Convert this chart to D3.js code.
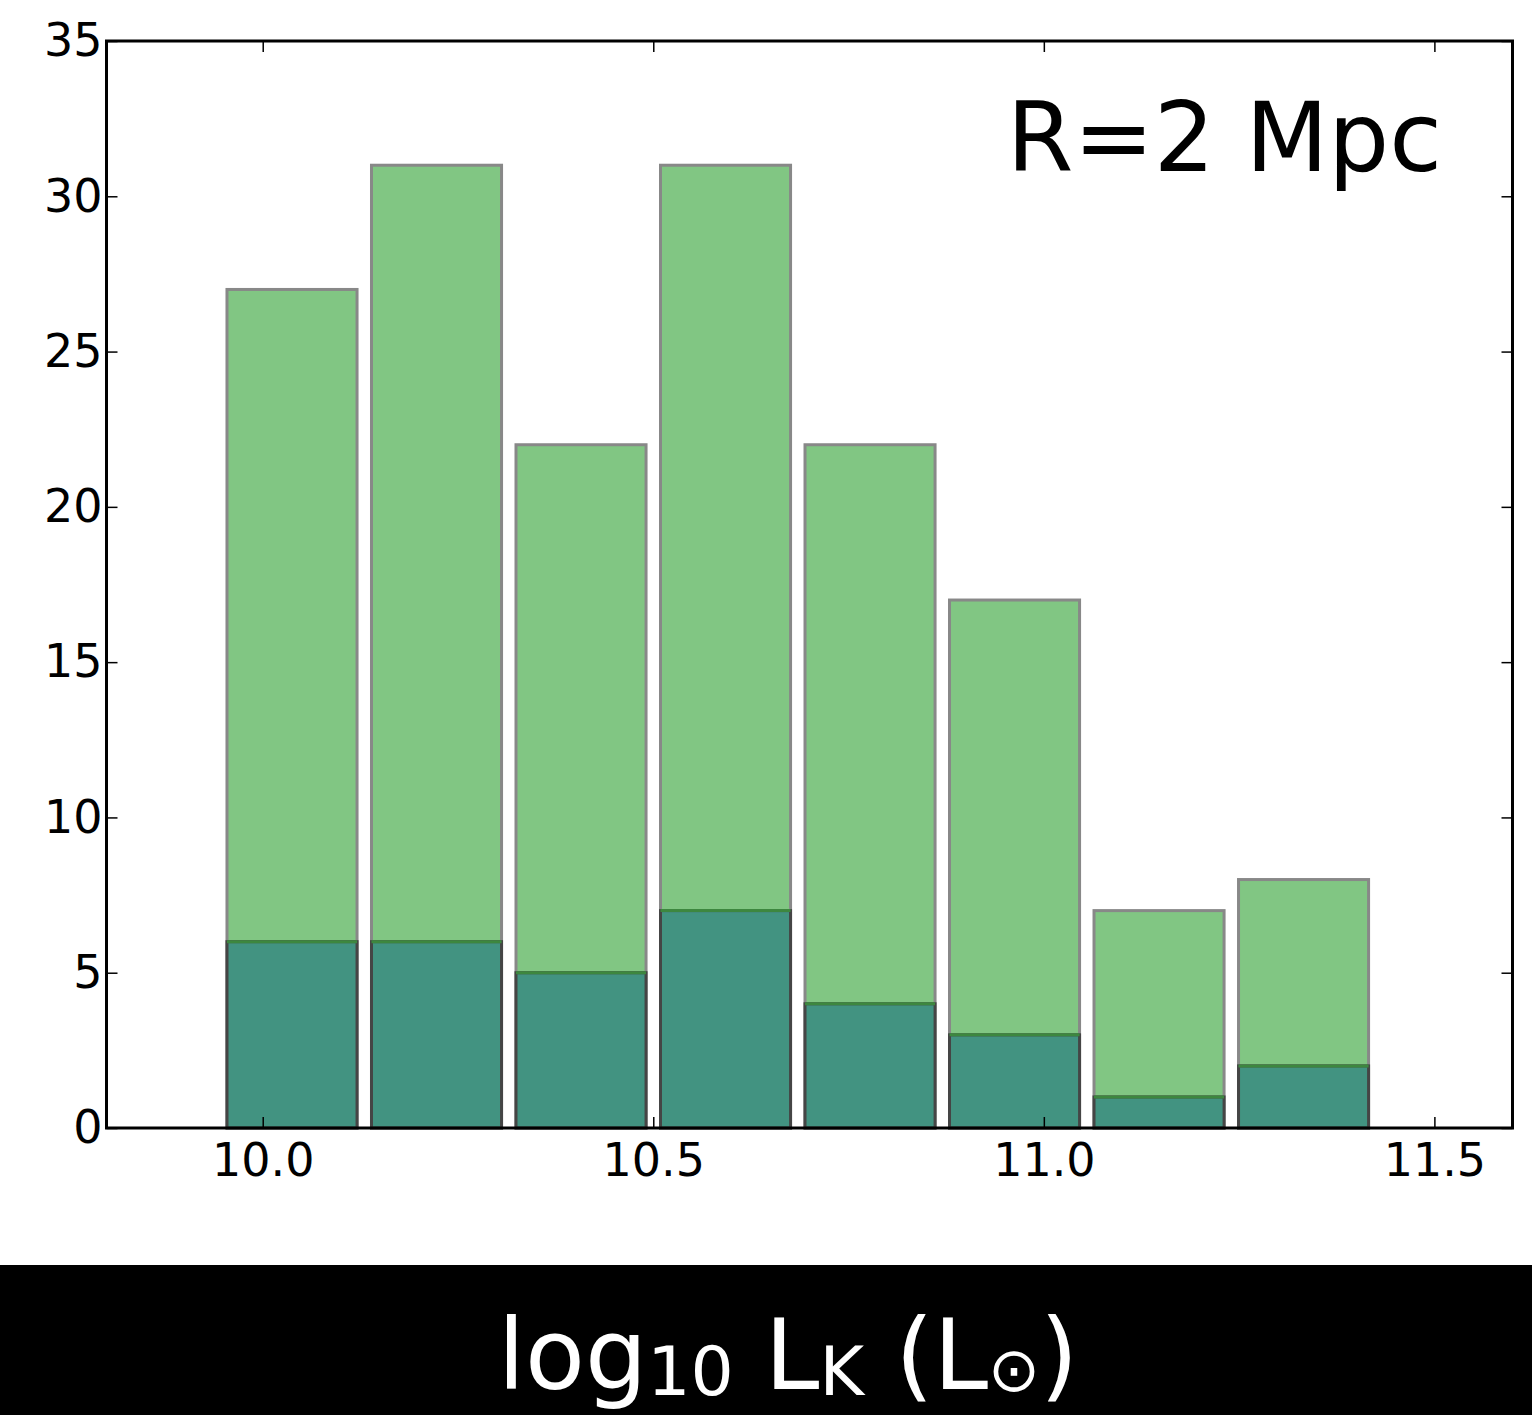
<!DOCTYPE html>
<html>
<head>
<meta charset="utf-8">
<script src="https://cdn.jsdelivr.net/npm/d3@7"></script>
<style>
  body { margin: 0; background: #fff; }
  svg { display: block; font-family: "DejaVu Sans", sans-serif; }
</style>
</head>
<body>
<svg id="chart" width="1532" height="1415"></svg>
<script>
'use strict';

// histogram bin edges (log10 L_K)
var binEdges = [9.945, 10.130, 10.315, 10.500, 10.685, 10.870, 11.055, 11.240, 11.425];
// all galaxies per bin
var allCounts = [27, 31, 22, 31, 22, 17, 7, 8];
// subset per bin
var subCounts = [6, 6, 5, 7, 4, 3, 1, 2];

var xTicks = [10.0, 10.5, 11.0, 11.5];
var yTicks = [0, 5, 10, 15, 20, 25, 30, 35];
var annotation = "R=2 Mpc";

var width = 1532, height = 1415;
var plot = {left: 106.5, right: 1512.5, top: 41, bottom: 1128};
var rwidth = 0.9;

var svg = d3.select("#chart");

var x = d3.scaleLinear().domain([9.8, 11.6]).range([plot.left, plot.right]);
var y = d3.scaleLinear().domain([0, 35]).range([plot.bottom, plot.top]);

var bins = allCounts.map(function(c, i) {
  var x0 = binEdges[i], x1 = binEdges[i + 1], pad = (x1 - x0) * (1 - rwidth) / 2;
  return {x0: x0 + pad, x1: x1 - pad, all: c, sub: subCounts[i]};
});

// big bars
svg.append("g").selectAll("rect")
    .data(bins)
  .enter().append("rect")
    .attr("x", function(d) { return x(d.x0); })
    .attr("y", function(d) { return y(d.all); })
    .attr("width", function(d) { return x(d.x1) - x(d.x0); })
    .attr("height", function(d) { return y(0) - y(d.all); })
    .attr("fill", "#81c683")
    .attr("stroke", "#888888")
    .attr("stroke-width", 3);

// subset bars
svg.append("g").selectAll("rect")
    .data(bins)
  .enter().append("rect")
    .attr("x", function(d) { return x(d.x0); })
    .attr("y", function(d) { return y(d.sub); })
    .attr("width", function(d) { return x(d.x1) - x(d.x0); })
    .attr("height", function(d) { return y(0) - y(d.sub); })
    .attr("fill", "#429381")
    .attr("stroke", "#454545")
    .attr("stroke-width", 3);

svg.append("g").selectAll("line")
    .data(bins)
  .enter().append("line")
    .attr("x1", function(d) { return x(d.x0); })
    .attr("x2", function(d) { return x(d.x1); })
    .attr("y1", function(d) { return y(d.sub); })
    .attr("y2", function(d) { return y(d.sub); })
    .attr("stroke", "#3d873f")
    .attr("stroke-width", 3);

// axes, matplotlib-style inward ticks on all sides
function styleAxis(g) {
  g.select(".domain").remove();
  g.selectAll(".tick line").attr("stroke", "#000").attr("stroke-width", 1.5);
  g.selectAll(".tick text").attr("fill", "#000").attr("font-size", 46)
    .attr("font-family", "DejaVu Sans, sans-serif");
}

svg.append("g")
    .attr("transform", "translate(0," + y(0) + ")")
    .call(d3.axisBottom(x).tickValues(xTicks).tickFormat(d3.format(".1f")).tickSizeInner(-11).tickPadding(15))
    .call(styleAxis);

svg.append("g")
    .attr("transform", "translate(0," + y(35) + ")")
    .call(d3.axisTop(x).tickValues(xTicks).tickFormat("").tickSizeInner(-11))
    .call(styleAxis);

svg.append("g")
    .attr("transform", "translate(" + x(9.8) + ",0)")
    .call(d3.axisLeft(y).tickValues(yTicks).tickFormat(d3.format("d")).tickSizeInner(-11).tickPadding(4))
    .call(styleAxis);

svg.append("g")
    .attr("transform", "translate(" + x(11.6) + ",0)")
    .call(d3.axisRight(y).tickValues(yTicks).tickFormat("").tickSizeInner(-11))
    .call(styleAxis);

// frame
svg.append("rect")
    .attr("x", x(9.8))
    .attr("y", y(35))
    .attr("width", x(11.6) - x(9.8))
    .attr("height", y(0) - y(35))
    .attr("fill", "none")
    .attr("stroke", "#000")
    .attr("stroke-width", 3);

svg.append("text")
    .attr("x", 1442)
    .attr("y", 171)
    .attr("text-anchor", "end")
    .attr("font-size", 96)
    .text(annotation);

// x label band
svg.append("rect")
    .attr("x", 0).attr("y", 1265)
    .attr("width", width).attr("height", height - 1265)
    .attr("fill", "#000");

var lab = svg.append("text")
    .attr("x", 788)
    .attr("y", 1389)
    .attr("text-anchor", "middle")
    .attr("fill", "#fff")
    .attr("font-size", 98);
lab.append("tspan").text("log");
lab.append("tspan").attr("font-size", 68).attr("dy", 6).text("10");
lab.append("tspan").attr("dy", -6).text(" L");
lab.append("tspan").attr("font-size", 68).attr("dy", 6).text("K");
lab.append("tspan").attr("dy", -6).text(" (L");
lab.append("tspan").attr("font-size", 62).attr("dy", 2).text("\u2299");
lab.append("tspan").attr("dy", -2).text(")");
</script>
</body>
</html>
